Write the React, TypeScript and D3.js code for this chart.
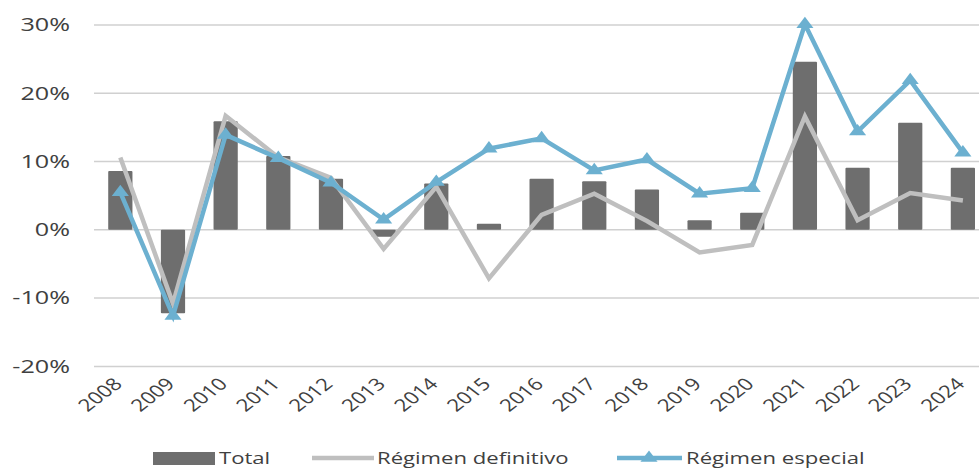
import React from "react";
import * as d3 from "d3";

const years = ["2008","2009","2010","2011","2012","2013","2014","2015","2016","2017","2018","2019","2020","2021","2022","2023","2024"];
const total = [8.6, -12.2, 15.9, 10.8, 7.5, -1.0, 6.8, 0.9, 7.5, 7.1, 5.9, 1.4, 2.5, 24.6, 9.1, 15.7, 9.1];
const definitivo = [10.6, -10.8, 16.7, 10.6, 7.6, -2.8, 6.3, -7.1, 2.2, 5.3, 1.3, -3.3, -2.2, 16.6, 1.4, 5.4, 4.3];
const especial = [5.5, -12.6, 13.9, 10.5, 6.9, 1.5, 7.0, 11.9, 13.4, 8.7, 10.3, 5.3, 6.1, 30.1, 14.4, 21.9, 11.3];
const yTicks = [-20, -10, 0, 10, 20, 30];
const legendLabels = ["Total", "Régimen definitivo", "Régimen especial"];

const W = 979, H = 468;
const FONT = "'Open Sans', 'Noto Sans', sans-serif";
const BAR = "#6e6e6e", GRAY = "#bfbfbf", BLUE = "#6cb0d0", GRID = "#d0d0d0", TXT = "#404040";
const SX = 1.3;

export default function App() {
  const x = d3.scaleBand<string>().domain(years).range([94, 94 + 17 * 52.66]).paddingInner(0.54).paddingOuter(0.27);
  const y = d3.scaleLinear().domain([-20, 30]).range([366.4, 25]);
  const cx = (d: string) => (x(d) as number) + x.bandwidth() / 2;
  const line = d3.line<number>().x((_, i) => cx(years[i])).y(v => y(v));
  const tri = d3.symbol().type(d3.symbolTriangle).size(75);

  return (
    <svg width={W} height={H} style={{ position: "absolute", left: 0, top: 0, background: "#fff" }} fontFamily={FONT}>
      {yTicks.map(t => (
        <g key={t}>
          <line x1={94} x2={W} y1={y(t)} y2={y(t)} stroke={GRID} strokeWidth={1.5} />
          <text transform={`translate(70,${y(t)}) scale(1.4,1)`} dy="0.35em" textAnchor="end" fontSize={18} fill={TXT}>{`${t}%`}</text>
        </g>
      ))}
      {years.map((yr, i) => (
        <rect key={yr} x={x(yr)} width={x.bandwidth()} y={y(Math.max(0, total[i]))}
          height={Math.abs(y(total[i]) - y(0))} fill={BAR} rx={1} />
      ))}
      <path d={line(definitivo) || ""} fill="none" stroke={GRAY} strokeWidth={4.5} strokeLinejoin="miter" />
      <path d={line(especial) || ""} fill="none" stroke={BLUE} strokeWidth={4.5} strokeLinejoin="miter" />
      {especial.map((v, i) => (
        <path key={i} d={tri() || ""} transform={`translate(${cx(years[i])},${y(v)}) scale(${SX},1)`} fill={BLUE} />
      ))}
      {years.map(yr => (
        <text key={yr} transform={`translate(${cx(yr) + 3},${385}) scale(${SX},1) rotate(-45)`} textAnchor="end"
          fontSize={17} fill={TXT}>{yr}</text>
      ))}
      <g fontSize={17} fill={TXT}>
        <rect x={153} y={452} width={62} height={13} fill={BAR} />
        <text transform={`translate(219,458) scale(${SX},1)`} dy="0.35em">{legendLabels[0]}</text>
        <line x1={312} x2={374} y1={458} y2={458} stroke={GRAY} strokeWidth={4.5} />
        <text transform={`translate(377,458) scale(${SX},1)`} dy="0.35em">{legendLabels[1]}</text>
        <line x1={617} x2={682} y1={458} y2={458} stroke={BLUE} strokeWidth={4.5} />
        <path d={tri() || ""} transform={`translate(649,458) scale(${SX},1)`} fill={BLUE} />
        <text transform={`translate(686,458) scale(${SX},1)`} dy="0.35em">{legendLabels[2]}</text>
      </g>
    </svg>
  );
}
